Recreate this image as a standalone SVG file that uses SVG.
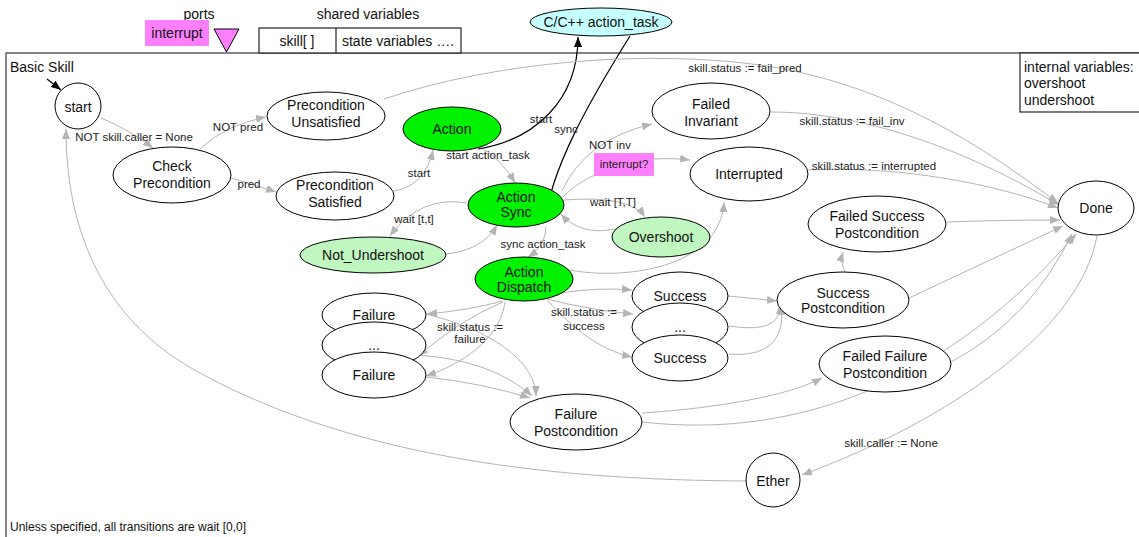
<svg xmlns="http://www.w3.org/2000/svg" width="1139" height="537" viewBox="0 0 1139 537">
<defs>
<marker id="ag" markerUnits="userSpaceOnUse" markerWidth="10" markerHeight="8" refX="10" refY="4" orient="auto"><path d="M0,0 L10,4 L0,8 z" fill="#b4b4b4"/></marker>
<marker id="ab" markerUnits="userSpaceOnUse" markerWidth="10" markerHeight="8" refX="10" refY="4" orient="auto"><path d="M0,0 L10,4 L0,8 z" fill="#000"/></marker>
<style>
text{font-family:"Liberation Sans",Arial,sans-serif;fill:#111}
.n{font-size:14px;text-anchor:middle}
.l{font-size:11.5px;text-anchor:middle;fill:#222}
.t{font-size:14px}
ellipse,circle{stroke:#000;stroke-width:1;fill:#fff}
.g{fill:#00f200}
.lg{fill:#c0f6c0}
.cy{fill:#c6ffff}
.e{fill:none;stroke:#b4b4b4;stroke-width:1;marker-end:url(#ag)}
.eb{fill:none;stroke:#000;stroke-width:1.2;marker-end:url(#ab)}
.box{fill:#fff;stroke:#222;stroke-width:1.2}
</style>
</defs>
<rect width="1139" height="537" fill="#fff"/>
<!-- frame -->
<rect x="6" y="53" width="1140" height="500" fill="none" stroke="#444" stroke-width="1.3"/>
<text class="t" x="10" y="72">Basic Skill</text>
<text x="10" y="531" style="font-size:12px">Unless specified, all transitions are wait [0,0]</text>
<!-- ports / shared vars -->
<g id="ports">
<text class="n" x="199" y="19">ports</text>
<rect x="145" y="20" width="64" height="26" fill="#ff80ff"/>
<text class="n" x="177" y="38">interrupt</text>
<polygon points="214,29 239,29 226.5,52" fill="#ff80ff" stroke="#000" stroke-width="1"/>
</g>
<g id="shared">
<text class="n" x="368" y="19">shared variables</text>
<rect x="259" y="28" width="202" height="25" class="box"/>
<line x1="336" y1="28" x2="336" y2="53" stroke="#222" stroke-width="1.2"/>
<text class="n" x="297" y="46">skill[ ]</text>
<text class="n" x="398" y="46">state variables ….</text>
</g>
<g id="internal">
<rect x="1020" y="53" width="130" height="59" class="box"/>
<text class="t" x="1024" y="72">internal variables:</text>
<text class="t" x="1024" y="88">overshoot</text>
<text class="t" x="1024" y="105">undershoot</text>
</g>
<!-- connectors -->
<g id="connectors">
<path class="eb" d="M47,79 L61,90"/>
<path class="e" d="M101,118 Q130,130 153,148"/>
<path class="e" d="M200,149 Q225,125 266,117"/>
<path class="e" d="M231,178 Q252,184 276,192"/>
<path class="e" d="M394,191 Q425,186 433,150"/>
<path class="e" d="M482,148 Q502,160 515,183"/>
<path class="eb" d="M478,149 C535,140 578,100 578,37"/>
<path class="eb" d="M630,36 C590,100 550,170 545,223"/>
<path class="e" d="M562,191 Q585,140 652,124"/>
<path class="e" d="M563,197 Q590,168 654,159 Q675,158 690,160"/>
<path class="e" d="M564,200 Q630,195 645,217"/>
<path class="e" d="M616,229 Q580,236 561,214"/>
<path class="e" d="M467,203 Q420,195 390,236"/>
<path class="e" d="M446,254 Q483,250 497,225"/>
<path class="e" d="M546,227 Q546,245 528,257"/>
<path class="e" d="M570,270 C620,280 720,270 724,202"/>
<path class="e" d="M560,293 Q600,287 632,290"/>
<path class="e" d="M547,299 Q590,310 633,314"/>
<path class="e" d="M547,300 C575,330 600,350 632,357"/>
<path class="e" d="M503,301 Q470,310 427,314"/>
<path class="e" d="M503,302 Q460,320 418,356"/>
<path class="e" d="M505,302 C500,340 460,365 426,376"/>
<path class="e" d="M728,296 Q750,298 777,301"/>
<path class="e" d="M729,326 C770,332 780,322 780,304"/>
<path class="e" d="M729,354 C775,358 785,332 781,305"/>
<path class="e" d="M426,314 C490,330 535,360 536,396"/>
<path class="e" d="M417,355 Q492,360 532,396"/>
<path class="e" d="M426,377 Q482,383 530,398"/>
<path class="e" d="M845,272 Q840,262 843,252"/>
<path class="e" d="M909,298 Q990,260 1063,226"/>
<path class="e" d="M947,222 Q1000,220 1060,220"/>
<path class="e" d="M384,99 C500,60 650,50 760,65 C900,85 1000,160 1058,203"/>
<path class="e" d="M771,112 C850,112 950,140 1059,205"/>
<path class="e" d="M808,170 C900,165 1000,185 1058,208"/>
<path class="e" d="M642,413 C720,408 790,395 822,378"/>
<path class="e" d="M642,422 C800,440 950,380 1076,234"/>
<path class="e" d="M951,362 Q1030,320 1072,234"/>
<path class="e" d="M1097,236 C1080,330 950,420 802,475"/>
<path class="e" d="M746,481 C560,480 360,460 200,373 C110,325 66,240 66,129"/>
</g>
<g id="edge-labels">
<text class="l" x="134" y="141">NOT skill.caller = None</text>
<text class="l" x="238" y="131">NOT pred</text>
<text class="l" x="249" y="188">pred</text>
<text class="l" x="419" y="177">start</text>
<text class="l" x="488" y="159">start action_task</text>
<text class="l" x="541" y="123">start</text>
<text class="l" x="566" y="133">sync</text>
<text class="l" x="610" y="149">NOT inv</text>
<rect x="594" y="153" width="60" height="23" fill="#ff80ff"/>
<text class="l" x="624" y="168">interrupt?</text>
<text class="l" x="613" y="206">wait [T,T]</text>
<text class="l" x="414" y="223">wait [t,t]</text>
<text class="l" x="543" y="248">sync action_task</text>
<text class="l" x="584" y="316">skill.status :=</text>
<text class="l" x="584" y="330">success</text>
<text class="l" x="470" y="331">skill.status :=</text>
<text class="l" x="470" y="343">failure</text>
<text class="l" x="745" y="72">skill.status := fail_pred</text>
<text class="l" x="852" y="125">skill.status := fail_inv</text>
<text class="l" x="874" y="170">skill.status := interrupted</text>
<text class="l" x="891" y="447">skill.caller := None</text>
</g>
<!-- nodes -->
<g id="n-cpp"><ellipse cx="601" cy="22" rx="71" ry="14" class="cy"/><text class="n" x="601" y="27">C/C++ action_task</text></g>
<g id="n-start"><circle cx="78" cy="106" r="23"/><text class="n" x="78" y="112">start</text></g>
<g id="n-check"><ellipse cx="172" cy="175" rx="59" ry="28"/><text class="n" x="172" y="171">Check</text><text class="n" x="172" y="188">Precondition</text></g>
<g id="n-preunsat"><ellipse cx="326" cy="116" rx="59" ry="24"/><text class="n" x="326" y="110">Precondition</text><text class="n" x="326" y="127">Unsatisfied</text></g>
<g id="n-presat"><ellipse cx="335" cy="196" rx="59" ry="24"/><text class="n" x="335" y="190">Precondition</text><text class="n" x="335" y="207">Satisfied</text></g>
<g id="n-action"><ellipse cx="452" cy="129" rx="49" ry="22" class="g"/><text class="n" x="452" y="134">Action</text></g>
<g id="n-sync"><ellipse cx="516" cy="205" rx="48" ry="22" class="g"/><text class="n" x="516" y="202">Action</text><text class="n" x="516" y="217">Sync</text></g>
<g id="n-notunder"><ellipse cx="373" cy="255" rx="73" ry="18" class="lg"/><text class="n" x="373" y="260">Not_Undershoot</text></g>
<g id="n-over"><ellipse cx="661" cy="237" rx="49" ry="20" class="lg"/><text class="n" x="661" y="242">Overshoot</text></g>
<g id="n-dispatch"><ellipse cx="524" cy="279" rx="49" ry="22" class="g"/><text class="n" x="524" y="277">Action</text><text class="n" x="524" y="292">Dispatch</text></g>
<g id="n-failinv"><ellipse cx="711" cy="111" rx="59" ry="28"/><text class="n" x="711" y="109">Failed</text><text class="n" x="711" y="126">Invariant</text></g>
<g id="n-interrupted"><ellipse cx="749" cy="174" rx="59" ry="27"/><text class="n" x="749" y="179">Interrupted</text></g>
<g id="n-done"><ellipse cx="1096" cy="208" rx="38" ry="27"/><text class="n" x="1096" y="213">Done</text></g>
<g id="n-fsp"><ellipse cx="877" cy="224" rx="69" ry="28"/><text class="n" x="877" y="221">Failed Success</text><text class="n" x="877" y="238">Postcondition</text></g>
<g id="n-sp"><ellipse cx="843" cy="300" rx="66" ry="28"/><text class="n" x="843" y="298">Success</text><text class="n" x="843" y="313">Postcondition</text></g>
<g id="n-ffp"><ellipse cx="885" cy="364" rx="66" ry="28"/><text class="n" x="885" y="361">Failed Failure</text><text class="n" x="885" y="378">Postcondition</text></g>
<g id="n-fp"><ellipse cx="576" cy="422" rx="66" ry="28"/><text class="n" x="576" y="419">Failure</text><text class="n" x="576" y="436">Postcondition</text></g>
<g id="n-success1"><ellipse cx="680" cy="296" rx="48" ry="24"/><text class="n" x="680" y="301">Success</text></g>
<g id="n-success2"><ellipse cx="680" cy="327" rx="48" ry="24"/><text class="n" x="680" y="332">...</text></g>
<g id="n-success3"><ellipse cx="680" cy="358" rx="48" ry="23"/><text class="n" x="680" y="363">Success</text></g>
<g id="n-failure1"><ellipse cx="374" cy="315" rx="52" ry="22"/><text class="n" x="374" y="320">Failure</text></g>
<g id="n-failure2"><ellipse cx="374" cy="345" rx="52" ry="23"/><text class="n" x="374" y="350">...</text></g>
<g id="n-failure3"><ellipse cx="374" cy="375" rx="52" ry="23"/><text class="n" x="374" y="380">Failure</text></g>
<g id="n-ether"><circle cx="773" cy="480" r="27"/><text class="n" x="773" y="486">Ether</text></g>
</svg>
